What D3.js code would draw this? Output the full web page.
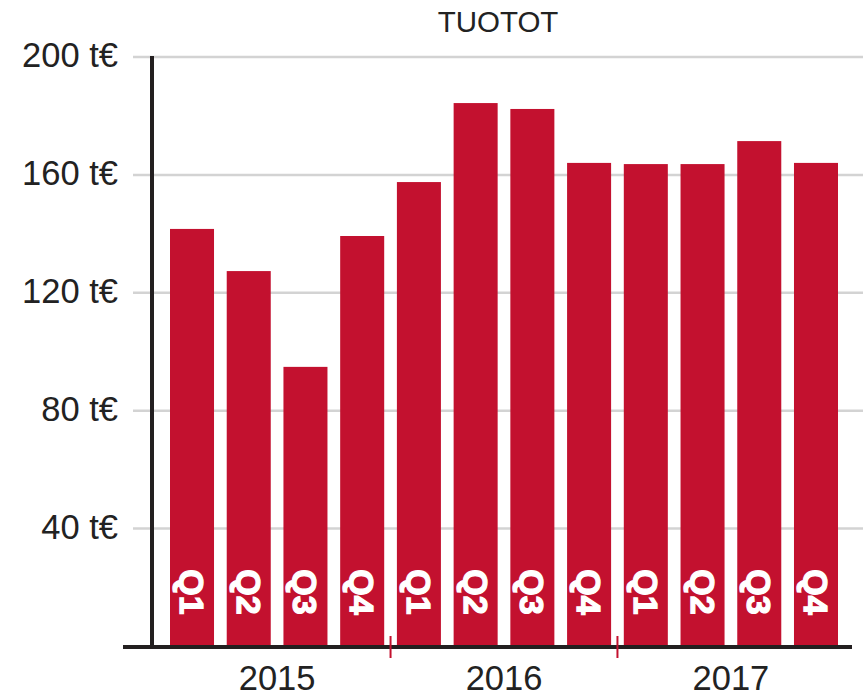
<!DOCTYPE html>
<html>
<head>
<meta charset="utf-8">
<script src="https://cdn.jsdelivr.net/npm/d3@7"></script>
<style>
  body { margin: 0; background: #fff; }
  svg { display: block; font-family: "Liberation Sans", Arial, sans-serif; }
</style>
</head>
<body>
<div id="chart"></div>
<script>
const years = ['2015', '2016', '2017'];
const quarters = ['Q1', 'Q2', 'Q3', 'Q4'];
const values = [141.5, 127.2, 94.7, 139.1, 157.4, 184.2, 182.2, 163.9, 163.5, 163.5, 171.3, 163.9];
const yTicks = [40, 80, 120, 160, 200];

const width = 863, height = 696;
const red = '#c3112f';

const svg = d3.select('#chart').append('svg')
  .attr('width', width)
  .attr('height', height);

const bars = values.map((v, i) => ({
  key: i,
  value: v,
  quarter: quarters[i % 4],
  year: years[Math.floor(i / 4)]
}));

const x = d3.scaleBand()
  .domain(bars.map(d => d.key))
  .range([170, 838])
  .paddingInner(0.224)
  .paddingOuter(0);

const y = d3.scaleLinear()
  .domain([0, 200])
  .range([646, 56.5]);

// gridlines + labels
const yAxis = svg.append('g')
  .attr('transform', 'translate(133,0)')
  .call(d3.axisLeft(y)
    .tickValues(yTicks)
    .tickSize(-(width - 133))
    .tickPadding(15)
    .tickFormat(d => d + ' t€'));

yAxis.select('.domain').remove();
yAxis.selectAll('.tick line')
  .attr('stroke', '#d3d3d3')
  .attr('stroke-width', 2.5);
yAxis.selectAll('.tick text')
  .attr('fill', '#222')
  .attr('font-size', 34.5)
  .attr('dy', '0.3em');

// bars
svg.append('g')
  .selectAll('rect')
  .data(bars)
  .join('rect')
  .attr('x', d => x(d.key))
  .attr('y', d => y(d.value))
  .attr('width', x.bandwidth())
  .attr('height', d => y(0) - y(d.value))
  .attr('fill', red);

// quarter labels inside bars
svg.append('g')
  .selectAll('text')
  .data(bars)
  .join('text')
  .attr('transform', d => `translate(${x(d.key) + x.bandwidth() / 2},592) rotate(90)`)
  .attr('text-anchor', 'middle')
  .attr('dominant-baseline', 'central')
  .attr('fill', '#fff')
  .attr('stroke', '#fff')
  .attr('stroke-width', 1.3)
  .attr('font-weight', 'bold')
  .attr('font-size', 34)
  .text(d => d.quarter);

// axis lines
svg.append('line')
  .attr('x1', 152).attr('x2', 152)
  .attr('y1', 56).attr('y2', 649)
  .attr('stroke', '#231f20')
  .attr('stroke-width', 4);

svg.append('line')
  .attr('x1', 123).attr('x2', 852)
  .attr('y1', 647).attr('y2', 647)
  .attr('stroke', '#231f20')
  .attr('stroke-width', 4);

// year separators
const gap = x.step() - x.bandwidth();
svg.append('g')
  .selectAll('line')
  .data(years.slice(1))
  .join('line')
  .attr('x1', (d, i) => x((i + 1) * 4) - gap / 2)
  .attr('x2', (d, i) => x((i + 1) * 4) - gap / 2)
  .attr('y1', 636)
  .attr('y2', 658)
  .attr('stroke', red)
  .attr('stroke-width', 2);

// year labels
svg.append('g')
  .selectAll('text')
  .data(years)
  .join('text')
  .attr('x', (d, i) => (x(i * 4) + x(i * 4 + 3) + x.bandwidth()) / 2)
  .attr('y', 690)
  .attr('text-anchor', 'middle')
  .attr('fill', '#222')
  .attr('font-size', 34.5)
  .text(d => d);

// title
svg.append('text')
  .attr('x', 498)
  .attr('y', 32)
  .attr('text-anchor', 'middle')
  .attr('fill', '#222')
  .attr('font-size', 29.5)
  .text('TUOTOT');
</script>
</body>
</html>
